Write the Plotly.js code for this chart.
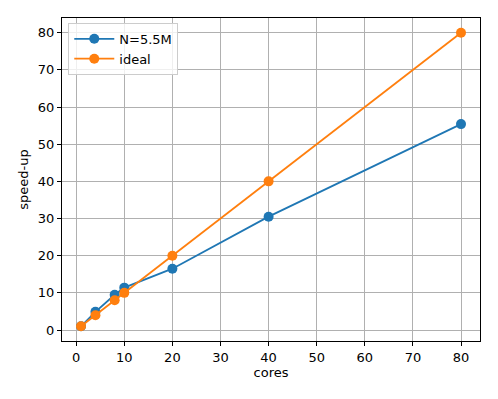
<!DOCTYPE html>
<html>
<head>
<meta charset="utf-8">
<script src="https://cdn.plot.ly/plotly-3.0.1.min.js"></script>
<style>
  html, body { margin: 0; padding: 0; background: #fff; }
  #chart { width: 498px; height: 399px; }
</style>
</head>
<body>
<div id="chart"></div>
<script>
// core counts and measured speed-up
const cores = [1, 4, 8, 10, 20, 40, 80];
const speedup = [1, 4.9, 9.5, 11.4, 16.5, 30.5, 55.4];
const ideal = [1, 4, 8, 10, 20, 40, 80];
const ticks = [0, 10, 20, 30, 40, 50, 60, 70, 80];

const blue = '#1f77b4';
const orange = '#ff7f0e';

const traces = [
  {
    x: cores, y: speedup, name: 'N=5.5M', mode: 'lines+markers',
    line: { color: blue, width: 1.8 },
    marker: { color: blue, size: 10 }
  },
  {
    x: cores, y: ideal, name: 'ideal', mode: 'lines+markers',
    line: { color: orange, width: 1.8 },
    marker: { color: orange, size: 10 }
  }
];

const axisBase = {
  showline: true, mirror: true, linecolor: '#000', linewidth: 1,
  ticks: 'outside', ticklen: 4, tickcolor: '#000', tickwidth: 1,
  showgrid: true, gridcolor: '#b0b0b0', gridwidth: 1,
  zeroline: false, tickvals: ticks,
  tickfont: { size: 13, color: '#000' }
};

const layout = {
  width: 498, height: 399,
  margin: { l: 62, r: 18, t: 18, b: 58 },
  paper_bgcolor: '#fff', plot_bgcolor: '#fff',
  font: { family: 'DejaVu Sans, sans-serif', size: 13, color: '#000' },
  showlegend: true,
  legend: {
    x: 0.015, y: 0.985, xanchor: 'left', yanchor: 'top',
    bgcolor: 'rgba(255,255,255,0.8)', bordercolor: '#cccccc', borderwidth: 1,
    font: { size: 13 }, itemwidth: 40
  },
  xaxis: Object.assign({}, axisBase, {
    range: [-2.95, 83.95],
    title: { text: 'cores', font: { size: 13 }, standoff: 4 }
  }),
  yaxis: Object.assign({}, axisBase, {
    range: [-2.95, 83.95],
    title: { text: 'speed-up', font: { size: 13 }, standoff: 6 }
  })
};

Plotly.newPlot('chart', traces, layout, { displayModeBar: false, staticPlot: true });
</script>
</body>
</html>
